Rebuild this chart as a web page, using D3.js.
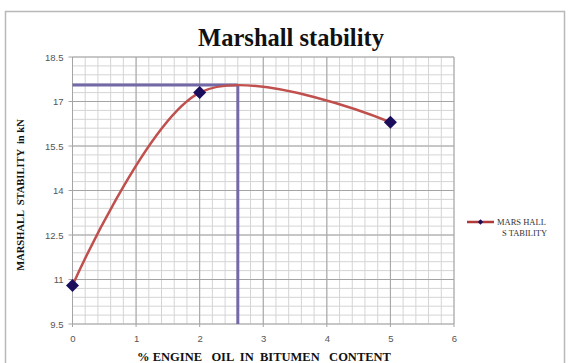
<!DOCTYPE html>
<html><head><meta charset="utf-8">
<script src="https://cdn.jsdelivr.net/npm/d3@7"></script>
<style>body{margin:0;background:#fff}svg{display:block}</style>
</head><body>
<svg id="c" width="569" height="363"></svg>
<script>
const oilContent = [0, 2, 5];
const stability = [10.8, 17.3, 16.3];
const xTicks = [0, 1, 2, 3, 4, 5, 6];
const yTicks = [9.5, 11, 12.5, 14, 15.5, 17, 18.5];
const optimum = {x: 2.6, y: 17.56};

const svg = d3.select("#c");
svg.append("rect").attr("x", 5.5).attr("y", 11.5).attr("width", 559).attr("height", 360)
  .attr("fill", "#fff").attr("stroke", "#b8b8b8").attr("stroke-width", 1.5);

const x = d3.scaleLinear().domain([0, 6]).range([72.5, 454]);
const y = d3.scaleLinear().domain([9.5, 18.5]).range([324, 57]);

const g = svg.append("g");
// minor grid
g.selectAll(".vx").data(d3.range(0, 6.001, 0.2)).enter().append("line")
  .attr("x1", d => x(d)).attr("x2", d => x(d)).attr("y1", y(9.5)).attr("y2", y(18.5))
  .attr("stroke", "#d4d4d4").attr("stroke-width", 1);
g.selectAll(".hy").data(d3.range(9.5, 18.501, 0.3)).enter().append("line")
  .attr("y1", d => y(d)).attr("y2", d => y(d)).attr("x1", x(0)).attr("x2", x(6))
  .attr("stroke", "#d4d4d4").attr("stroke-width", 1);
// major grid
g.selectAll(".mx").data(xTicks).enter().append("line")
  .attr("x1", d => x(d)).attr("x2", d => x(d)).attr("y1", y(9.5) + 3).attr("y2", y(18.5))
  .attr("stroke", "#a4a4a4").attr("stroke-width", 1);
g.selectAll(".my").data(yTicks).enter().append("line")
  .attr("y1", d => y(d)).attr("y2", d => y(d)).attr("x1", x(0) - 4).attr("x2", x(6))
  .attr("stroke", "#a4a4a4").attr("stroke-width", 1);

// axes labels
const xAxis = d3.axisBottom(x).tickValues(xTicks).tickSize(0).tickPadding(11).tickFormat(d3.format("d"));
const ya = d3.axisLeft(y).tickValues(yTicks).tickSize(0).tickPadding(9).tickFormat(d3.format("~g"));
const gx = svg.append("g").attr("transform", `translate(0,${y(9.5)})`).call(xAxis);
const gy = svg.append("g").attr("transform", `translate(${x(0)},0)`).call(ya);
[gx, gy].forEach(a => {
  a.select(".domain").remove();
  a.selectAll("text").attr("font-family", "Liberation Sans, Arial, sans-serif")
    .attr("font-size", 9.5).attr("fill", "#555");
});

// optimum lines
svg.append("line").attr("x1", x(0)).attr("x2", x(optimum.x)).attr("y1", y(optimum.y)).attr("y2", y(optimum.y))
  .attr("stroke", "#7468a8").attr("stroke-width", 3);
svg.append("line").attr("x1", x(optimum.x)).attr("x2", x(optimum.x)).attr("y1", y(optimum.y)).attr("y2", y(9.5))
  .attr("stroke", "#7468a8").attr("stroke-width", 3);

// curve
const pts = oilContent.map((d, i) => [d, stability[i]]);
const line = d3.line().x(d => x(d[0])).y(d => y(d[1])).curve(d3.curveCardinal.tension(0));
svg.append("path").datum(pts).attr("d", line).attr("fill", "none")
  .attr("stroke", "#c0504d").attr("stroke-width", 2.5);
svg.selectAll(".pt").data(pts).enter().append("path")
  .attr("transform", d => `translate(${x(d[0])},${y(d[1])}) rotate(45)`)
  .attr("d", d3.symbol().type(d3.symbolSquare).size(85)).attr("fill", "#1a0e5c");

// title
svg.append("text").attr("x", 291).attr("y", 46).attr("text-anchor", "middle")
  .attr("font-family", "Liberation Serif, Times New Roman, serif").attr("font-weight", "bold")
  .attr("font-size", 24.5).attr("fill", "#111").text("Marshall stability");
// axis titles
svg.append("text").attr("transform", `translate(24,${195}) rotate(-90)`).attr("text-anchor", "middle")
  .attr("font-family", "Liberation Serif, Times New Roman, serif").attr("font-weight", "bold")
  .attr("font-size", 10.5).attr("fill", "#111").attr("xml:space", "preserve")
  .text("MARSHALL  STABILITY  in kN");
svg.append("text").attr("x", 264).attr("y", 361).attr("text-anchor", "middle")
  .attr("font-family", "Liberation Serif, Times New Roman, serif").attr("font-weight", "bold")
  .attr("font-size", 12.5).attr("fill", "#111").attr("xml:space", "preserve")
  .text("% ENGINE   OIL  IN  BITUMEN   CONTENT");

// legend
const lg = svg.append("g");
lg.append("line").attr("x1", 467).attr("x2", 494).attr("y1", 222).attr("y2", 222)
  .attr("stroke", "#b03a3a").attr("stroke-width", 2.5);
lg.append("path").attr("transform", "translate(480.5,222) rotate(45)")
  .attr("d", d3.symbol().type(d3.symbolSquare).size(14)).attr("fill", "#1a0e5c");
lg.append("text").attr("x", 497).attr("y", 225).attr("font-family", "Liberation Serif, Times New Roman, serif")
  .attr("font-size", 8.5).attr("fill", "#333").text("MARS HALL");
lg.append("text").attr("x", 502).attr("y", 236).attr("font-family", "Liberation Serif, Times New Roman, serif")
  .attr("font-size", 8.5).attr("fill", "#333").text("S TABILITY");
</script>
</body></html>
